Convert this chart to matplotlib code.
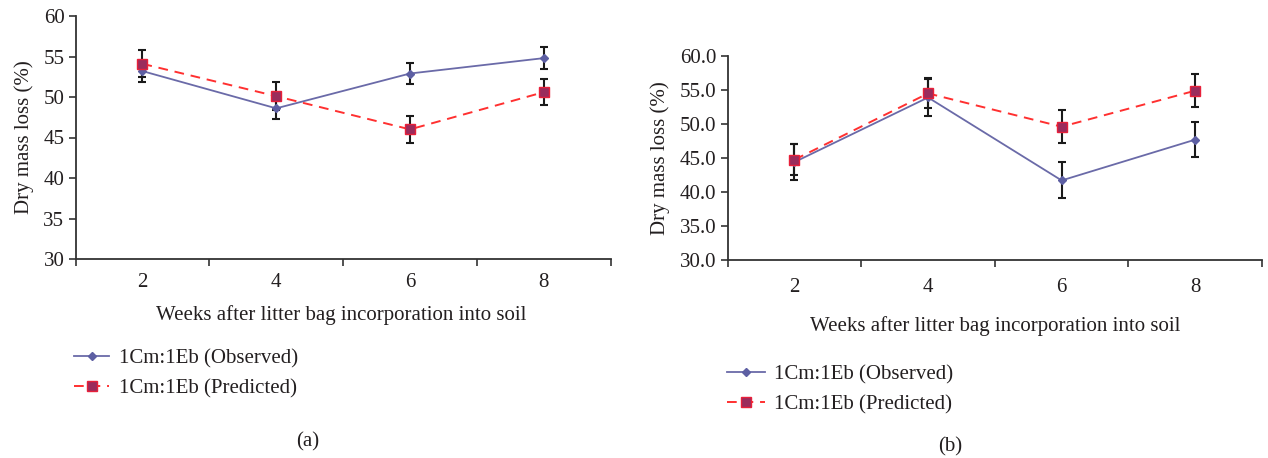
import matplotlib
matplotlib.use("Agg")
import matplotlib.pyplot as plt
import numpy as np

weeks = ['2', '4', '6', '8']

a_observed = [53.2, 48.6, 52.9, 54.8]
a_observed_err = [1.3, 1.3, 1.3, 1.35]
a_predicted = [54.1, 50.1, 46.0, 50.6]
a_predicted_err = [1.65, 1.7, 1.7, 1.6]

b_observed = [44.4, 53.9, 41.7, 47.7]
b_observed_err = [2.7, 2.7, 2.65, 2.6]
b_predicted = [44.75, 54.5, 49.6, 54.9]
b_predicted_err = [2.3, 2.2, 2.4, 2.4]

a_yticks = [30, 35, 40, 45, 50, 55, 60]
a_yticklabels = ['30', '35', '40', '45', '50', '55', '60']
b_yticks = [30, 35, 40, 45, 50, 55, 60]
b_yticklabels = ['30.0', '35.0', '40.0', '45.0', '50.0', '55.0', '60.0']

label_obs = '1Cm:1Eb (Observed)'
label_pred = '1Cm:1Eb (Predicted)'
xlabel = 'Weeks after litter bag incorporation into soil'
ylabel = 'Dry mass loss (%)'

plt.rcParams['font.family'] = ['Liberation Serif', 'DejaVu Serif']
TXT = '#231f20'
OBS_C = '#6a6aa8'
OBS_M = '#5d5fa3'
PRED_C = '#ff3030'
PRED_F = '#9a2c5c'
PRED_E = '#e8203a'
FS = 15

W, H = 1268, 458
fig = plt.figure(figsize=(W / 100, H / 100), dpi=100)


def px_axes(l, t, r, b):
    return fig.add_axes([l / W, 1 - b / H, (r - l) / W, (b - t) / H])


def draw(ax, obs, obs_err, pred, pred_err, yticks, yticklabels, xpad):
    x = np.arange(len(weeks))
    ax.errorbar(x, obs, yerr=obs_err, fmt='none', ecolor='#1a1a1a',
                elinewidth=1.5, capsize=3, capthick=1.5, zorder=2)
    ax.errorbar(x, pred, yerr=pred_err, fmt='none', ecolor='#1a1a1a',
                elinewidth=1.5, capsize=3, capthick=1.5, zorder=2)
    l1, = ax.plot(x, obs, color=OBS_C, lw=1.3, marker='D', ms=4.5,
                  mfc=OBS_M, mec=OBS_M, zorder=3, label=label_obs)
    l2, = ax.plot(x, pred, color=PRED_C, lw=1.4, ls=(0, (5, 3.5)), marker='s',
                  ms=6.5, mfc=PRED_F, mec=PRED_E, mew=1.0, zorder=4, label=label_pred)
    ax.set_xlim(-0.5, len(weeks) - 0.5)
    ax.set_ylim(30, 60)
    ax.set_xticks(x)
    ax.set_xticklabels(weeks)
    ax.set_xticks(np.arange(-0.5, len(weeks), 1.0), minor=True)
    ax.tick_params(axis='x', which='major', length=0, pad=xpad, labelsize=FS, labelcolor=TXT)
    ax.tick_params(axis='x', which='minor', length=5, width=1.2, color='#333333', direction='out')
    ax.set_yticks(yticks)
    ax.set_yticklabels(yticklabels)
    ax.tick_params(axis='y', length=5, width=1.2, color='#333333', pad=3,
                   labelsize=FS, labelcolor=TXT)
    for s in ['top', 'right']:
        ax.spines[s].set_visible(False)
    for s in ['left', 'bottom']:
        ax.spines[s].set_linewidth(1.3)
        ax.spines[s].set_color('#333333')
    ax.set_ylabel(ylabel, fontsize=FS, color=TXT, labelpad=7)
    return l1, l2


axa = px_axes(75.5, 16, 610.7, 259)
ha = draw(axa, a_observed, a_observed_err, a_predicted, a_predicted_err,
          a_yticks, a_yticklabels, 10)
axb = px_axes(727.7, 56, 1262, 260)
hb = draw(axb, b_observed, b_observed_err, b_predicted, b_predicted_err,
          b_yticks, b_yticklabels, 13)

fig.text(341 / W, 1 - 315 / H, xlabel, ha='center', va='center', fontsize=FS, color=TXT)
fig.text(995 / W, 1 - 326 / H, xlabel, ha='center', va='center', fontsize=FS, color=TXT)

fig.legend(ha, [label_obs, label_pred], loc='upper left',
           bbox_to_anchor=(74 / W, 1 - 349 / H), frameon=False, fontsize=FS,
           handlelength=1.7, handletextpad=0.45, labelspacing=0.5,
           borderpad=0, borderaxespad=0, numpoints=1, labelcolor=TXT)
fig.legend(hb, [label_obs, label_pred], loc='upper left',
           bbox_to_anchor=(727 / W, 1 - 364.5 / H), frameon=False, fontsize=FS,
           handlelength=1.8, handletextpad=0.45, labelspacing=0.5,
           borderpad=0, borderaxespad=0, numpoints=1, labelcolor=TXT)

fig.text(308 / W, 1 - 441.7 / H, '(a)', ha='center', va='center', fontsize=FS, color=TXT)
fig.text(950 / W, 1 - 446.7 / H, '(b)', ha='center', va='center', fontsize=FS, color=TXT)

fig.savefig('out.png', dpi=100)
